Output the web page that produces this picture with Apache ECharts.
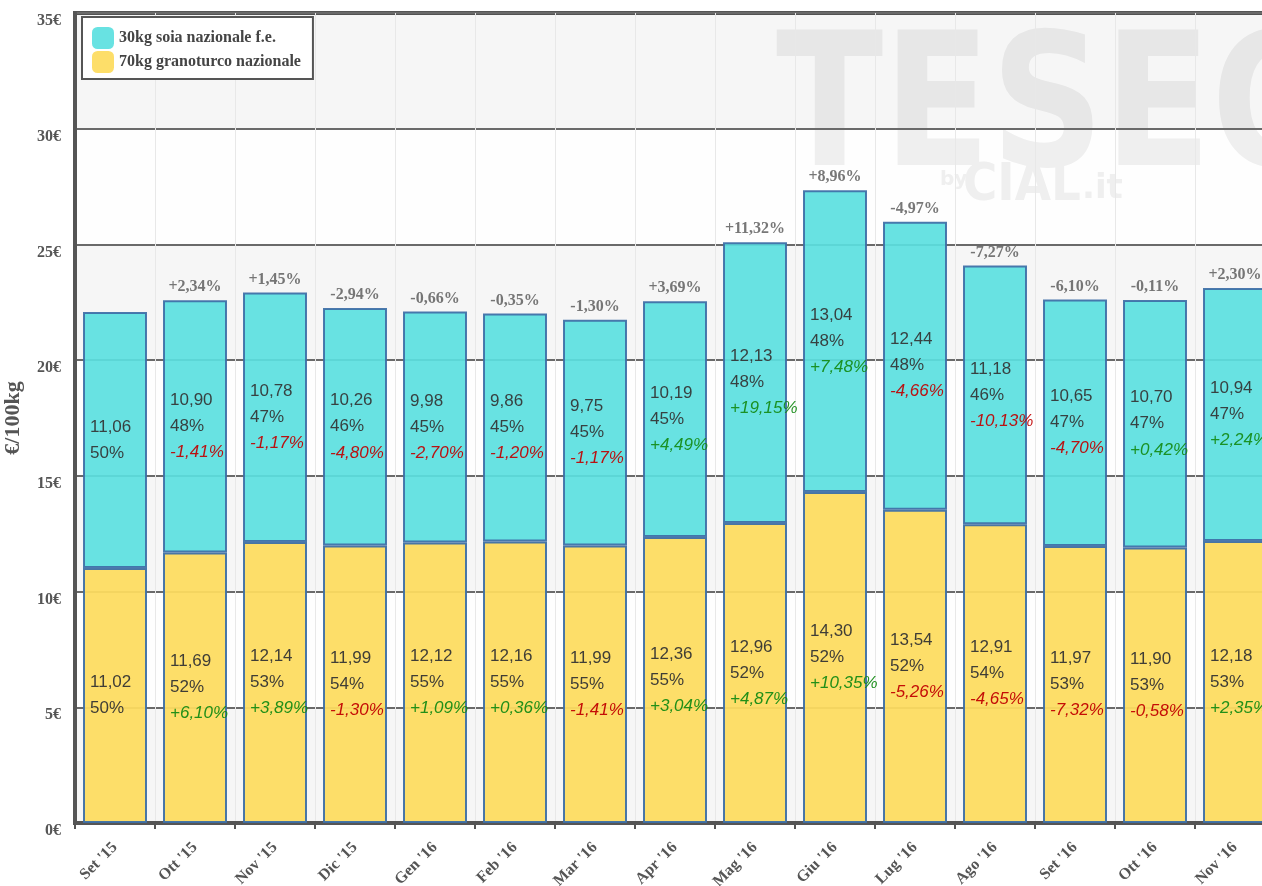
<!DOCTYPE html>
<html><head><meta charset="utf-8">
<script src="https://cdn.jsdelivr.net/npm/echarts@6/dist/echarts.min.js"></script>
<style>html,body{margin:0;padding:0;background:#fff;overflow:hidden}#c{width:1262px;height:886px}</style>
</head><body><div id="c"></div>
<script>
const categories = ["Set '15","Ott '15","Nov '15","Dic '15","Gen '16","Feb '16","Mar '16","Apr '16","Mag '16","Giu '16","Lug '16","Ago '16","Set '16","Ott '16","Nov '16"];
const soia = [11.06,10.90,10.78,10.26,9.98,9.86,9.75,10.19,12.13,13.04,12.44,11.18,10.65,10.70,10.94];
const soiaPct = [50,48,47,46,45,45,45,45,48,48,48,46,47,47,47];
const soiaChg = [null,-1.41,-1.17,-4.80,-2.70,-1.20,-1.17,4.49,19.15,7.48,-4.66,-10.13,-4.70,0.42,2.24];
const mais = [11.02,11.69,12.14,11.99,12.12,12.16,11.99,12.36,12.96,14.30,13.54,12.91,11.97,11.90,12.18];
const maisPct = [50,52,53,54,55,55,55,55,52,52,52,54,53,53,53];
const maisChg = [null,6.10,3.89,-1.30,1.09,0.36,-1.41,3.04,4.87,10.35,-5.26,-4.65,-7.32,-0.58,2.35];
const totalChg = [null,2.34,1.45,-2.94,-0.66,-0.35,-1.30,3.69,11.32,8.96,-4.97,-7.27,-6.10,-0.11,2.30];
const yTicks = [0,5,10,15,20,25,30,35];

const nameSoia = '30kg soia nazionale f.e.';
const nameMais = '70kg granoturco nazionale';

function fmt(v){ return v.toFixed(2).replace('.', ','); }
function fmtChg(v){ return (v >= 0 ? '+' : '') + v.toFixed(2).replace('.', ',') + '%'; }
function labelFmt(vals, pcts, chgs){
  return function(p){
    const i = p.dataIndex;
    let s = '{v|' + fmt(vals[i]) + '}\n{v|' + pcts[i] + '%}';
    if (chgs[i] !== null) s += '\n{' + (chgs[i] >= 0 ? 'g' : 'r') + '|' + fmtChg(chgs[i]) + '}';
    return s;
  };
}
const rich = {
  v: {color:'#333', fontSize:17, fontFamily:'Liberation Sans', lineHeight:26},
  g: {color:'#138a13', fontSize:17, fontFamily:'Liberation Sans', fontStyle:'italic', lineHeight:26},
  r: {color:'#c00000', fontSize:17, fontFamily:'Liberation Sans', fontStyle:'italic', lineHeight:26}
};
const serif = 'Liberation Serif';
const totals = soia.map((v,i)=> +(v + mais[i]).toFixed(2));

const chart = echarts.init(document.getElementById('c'));
chart.setOption({
  animation:false,
  backgroundColor:'#fff',
  graphic:[
    {type:'text', z:-10, left:776, top:24, scaleX:0.85, style:{text:'TESEO', font:'bold 185px "DejaVu Sans"', fill:'#f0f0f0'}},
    {type:'text', z:-10, left:940, top:170, style:{text:'by', font:'bold 20px "DejaVu Sans"', fill:'#f0f0f0'}},
    {type:'text', z:-10, left:963, top:160, scaleX:0.9, style:{text:'CIAL', font:'bold 52px "DejaVu Sans"', fill:'#f0f0f0'}},
    {type:'text', z:-10, left:1082, top:172, style:{text:'.it', font:'bold 34px "DejaVu Sans"', fill:'#f0f0f0'}}
  ],
  legend:{
    data:[nameSoia, nameMais], orient:'vertical', left:82, top:17,
    backgroundColor:'#fff', borderColor:'#555', borderWidth:2, padding:[10,12,6,10],
    itemWidth:22, itemHeight:22, itemGap:2, icon:'roundRect',
    itemStyle:{borderWidth:0},
    textStyle:{fontFamily:serif, fontWeight:'bold', fontSize:16, color:'#444'}
  },
  grid:{left:75, top:13, width:1200, height:810, outerBoundsMode:'none', containLabel:false,
        show:true, borderColor:'#555', borderWidth:4, backgroundColor:'transparent'},
  xAxis:{
    type:'category', data:categories,
    axisLine:{lineStyle:{color:'#555', width:4}},
    axisTick:{show:true, length:6, lineStyle:{color:'#555', width:2}},
    splitLine:{show:true, lineStyle:{color:'#e8e8e8', width:1}},
    axisLabel:{rotate:45, margin:22, color:'#555', fontFamily:serif, fontWeight:'bold', fontSize:16}
  },
  yAxis:{
    type:'value', min:0, max:35, interval:5,
    name:'€/100kg', nameLocation:'middle', nameGap:51,
    nameTextStyle:{fontFamily:serif, fontWeight:'bold', fontSize:22, color:'#555'},
    axisLine:{show:true, lineStyle:{color:'#555', width:4}},
    axisTick:{show:false},
    splitLine:{lineStyle:{color:'#6a6a6a', width:2}},
    splitArea:{show:true, areaStyle:{color:['rgba(0,0,0,0.035)','rgba(0,0,0,0.005)']}},
    axisLabel:{margin:14, color:'#555', fontFamily:serif, fontWeight:'bold', fontSize:16, verticalAlign:'top',
      formatter:function(v){ return yTicks.indexOf(v) >= 0 ? v + '€' : ''; }}
  },
  series:[
    {name:nameMais, type:'bar', stack:'t', barWidth:'80%', data:mais,
     itemStyle:{color:'#fddc60', opacity:0.94, borderColor:'#3d6ea6', borderWidth:2},
     label:{show:true, position:'insideLeft', distance:7, formatter:labelFmt(mais, maisPct, maisChg), rich:rich}},
    {name:nameSoia, type:'bar', stack:'t', barWidth:'80%', data:soia,
     itemStyle:{color:'#5bdfdf', opacity:0.92, borderColor:'#3d6ea6', borderWidth:2},
     label:{show:true, position:'insideLeft', distance:7, formatter:labelFmt(soia, soiaPct, soiaChg), rich:rich}},
    {name:'tot', type:'scatter', data:totals, symbolSize:0, silent:true,
     label:{show:true, position:'top', distance:5, color:'#555', fontFamily:serif, fontWeight:'bold', fontSize:16,
       formatter:function(p){ const c = totalChg[p.dataIndex]; return c === null ? '' : fmtChg(c); }}}
  ]
});
</script>
</body></html>
